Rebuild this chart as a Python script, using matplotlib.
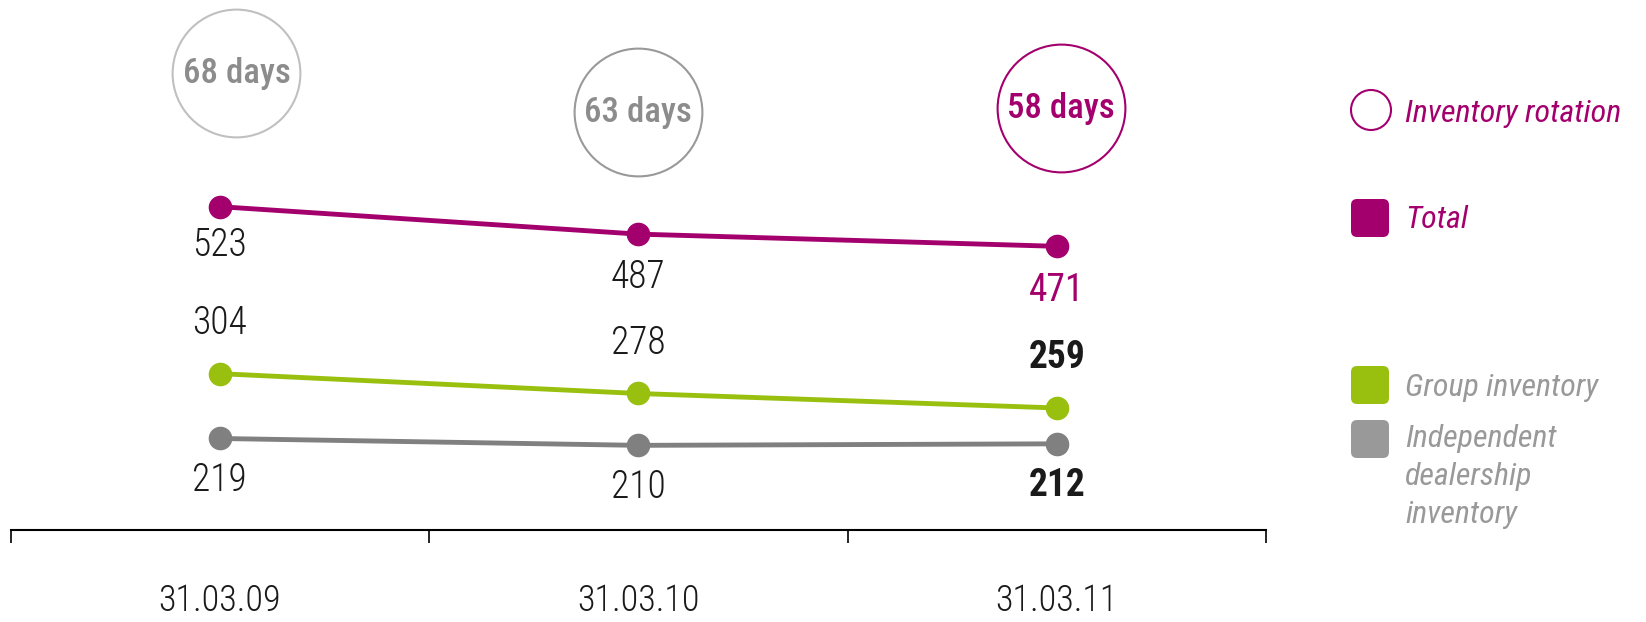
import matplotlib
matplotlib.use("Agg")
import matplotlib.pyplot as plt
from matplotlib.patches import Circle, FancyBboxPatch

W, H = 1646, 622
MAGENTA = "#a3006e"
GREEN = "#99c00f"
GREY = "#808080"
LGREY = "#999999"
INK = "#1a1a1a"

plt.rcParams["font.family"] = ["Roboto Condensed", "DejaVu Sans"]

dates = ["31.03.09", "31.03.10", "31.03.11"]
total = [523, 487, 471]
group = [304, 278, 259]
independent = [219, 210, 212]
rotation_days = [68, 63, 58]

fig = plt.figure(figsize=(W / 100, H / 100), dpi=100)
ax = fig.add_axes([10.5 / W, 1 - 530 / H, (1266 - 10.5) / W, 530 / H])
x = list(range(len(dates)))

ax.plot(x, total, color=MAGENTA, lw=3.5, marker="o", ms=16, zorder=3)
ax.plot(x, group, color=GREEN, lw=3.5, marker="o", ms=16, zorder=3)
ax.plot(x, independent, color=GREY, lw=3.5, marker="o", ms=16, zorder=3)

# value labels: last date is highlighted
total_dy = [-28, -31, -32]
last = len(dates) - 1
for i in x:
    bold = i == last
    w = "bold" if bold else "light"
    ax.annotate(str(total[i]), (i, total[i]), xytext=(0, total_dy[i]), textcoords="offset points",
                ha="center", va="center", fontsize=27,
                color=MAGENTA if bold else INK, fontweight="normal" if bold else "light")
    ax.annotate(str(group[i]), (i, group[i]), xytext=(0, 36), textcoords="offset points",
                ha="center", va="center", fontsize=27, color=INK, fontweight=w)
    ax.annotate(str(independent[i]), (i, independent[i]), xytext=(0, -30), textcoords="offset points",
                ha="center", va="center", fontsize=27, color=INK, fontweight=w)

# rotation bubbles
bubble_dx = [0.04, 0.0, 0.01]
bubble_y = [698, 647, 652]
bubble_edge = ["#c0c0c0", "#999999", MAGENTA]
bubble_text = ["#8c8c8c", "#8c8c8c", MAGENTA]
for i, d in enumerate(rotation_days):
    ax.plot(i + bubble_dx[i], bubble_y[i], marker="o", ms=92, mfc="none",
            mec=bubble_edge[i], mew=1.5, clip_on=False)
    ax.text(i + bubble_dx[i], bubble_y[i], f"{d} days", ha="center", va="center",
            fontsize=25, fontweight="medium", color=bubble_text[i])

ax.set_xlim(-0.5, 2.5)
ax.set_ylim(99, 794)
for s in ["top", "right", "left"]:
    ax.spines[s].set_visible(False)
ax.spines["bottom"].set_linewidth(1.5)
ax.set_yticks([])
ax.set_xticks(x)
ax.set_xticklabels(dates, fontsize=26, color=INK, fontweight="light")
ax.set_xticks([-0.5, 0.5, 1.5, 2.5], minor=True)
ax.tick_params(axis="x", which="major", length=0, pad=38)
ax.tick_params(axis="x", which="minor", length=9, width=1.2, direction="out")

# legend drawn in pixel space
lg = fig.add_axes([0, 0, 1, 1], zorder=-1)
lg.set_xlim(0, W)
lg.set_ylim(H, 0)
lg.axis("off")
lg.add_patch(Circle((1371, 110), 20, fill=False, ec=MAGENTA, lw=1.5))
for cy, col in [(218, MAGENTA), (385, GREEN), (439, LGREY)]:
    lg.add_patch(FancyBboxPatch((1351, cy - 19), 38, 38,
                                boxstyle="round,pad=0,rounding_size=6", fc=col, ec="none"))
lg.text(1405, 113, "Inventory rotation", fontsize=23, style="italic", color=MAGENTA, va="center")
lg.text(1405, 220, "Total", fontsize=23, style="italic", color=MAGENTA, va="center")
lg.text(1405, 388, "Group inventory", fontsize=23, style="italic", color=LGREY, va="center")
lg.text(1405, 424, "Independent\ndealership\ninventory", fontsize=23, style="italic",
        color=LGREY, va="top", linespacing=1.4)

fig.savefig("out.png", dpi=100)
